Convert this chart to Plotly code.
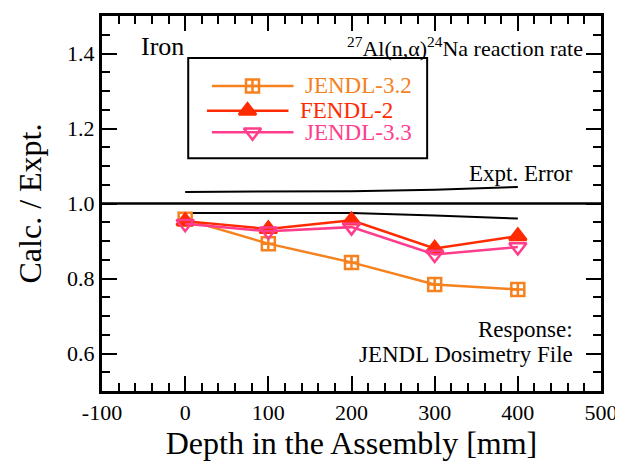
import plotly.graph_objects as go

# ---- data ----
depth = [0, 100, 200, 300, 400]
jendl32 = [0.958, 0.893, 0.843, 0.784, 0.771]
fendl2 = [0.953, 0.932, 0.955, 0.880, 0.913]
jendl33 = [0.946, 0.926, 0.937, 0.864, 0.884]
err_upper = [1.031, 1.031, 1.033, 1.037, 1.044]
err_lower = [0.975, 0.975, 0.975, 0.968, 0.960]
x_tickvals = [-100, 0, 100, 200, 300, 400, 500]
x_ticktext = ["-100", "0", "100", "200", "300", "400", "500"]

names = ["JENDL-3.2", "FENDL-2", "JENDL-3.3"]
colors = ["#F5821F", "#FF2A00", "#FF3D8C"]
symbols = ["square-cross-open", "triangle-up", "triangle-down-open"]
sizes = [13, 15, 15]
series = [jendl32, fendl2, jendl33]

FONT = "Liberation Serif, Times New Roman, serif"

fig = go.Figure()

# expt error band lines
fig.add_trace(go.Scatter(x=depth, y=err_upper, mode="lines",
                         line=dict(color="black", width=2), showlegend=False))
fig.add_trace(go.Scatter(x=depth, y=err_lower, mode="lines",
                         line=dict(color="black", width=2), showlegend=False))

for nm, ys, c, s, sz in zip(names, series, colors, symbols, sizes):
    fig.add_trace(go.Scatter(
        x=depth, y=ys, mode="lines+markers", name=nm,
        line=dict(color=c, width=2.5),
        marker=dict(symbol=s, size=sz, color=c, line=dict(color=c, width=2.5)),
        showlegend=False))

# ---- manual legend (overlay axes in [0,1]) ----
leg_rows = [0.8134, 0.7473, 0.6899]
leg_line_x = [(0.2203, 0.3837), (0.2103, 0.3737), (0.2203, 0.3837)]
leg_mark_x = [0.3016, 0.2916, 0.3016]
leg_text_x = [0.4026, 0.3937, 0.4026]

shapes = [
    dict(type="rect", xref="paper", yref="paper", x0=0.1728, x1=0.6516,
         y0=0.621, y1=0.888, line=dict(color="black", width=2),
         fillcolor="white", layer="below"),
]
annotations = []
for i in range(3):
    shapes.append(dict(type="line", xref="paper", yref="paper",
                       x0=leg_line_x[i][0], x1=leg_line_x[i][1],
                       y0=leg_rows[i], y1=leg_rows[i],
                       line=dict(color=colors[i], width=2.5), layer="below"))
    annotations.append(dict(x=leg_text_x[i], y=leg_rows[i], xref="paper", yref="paper",
                            text=names[i], showarrow=False, xanchor="left",
                            yanchor="middle",
                            font=dict(family=FONT, size=23, color=colors[i])))
    fig.add_trace(go.Scatter(
        x=[leg_mark_x[i]], y=[leg_rows[i]], xaxis="x2", yaxis="y2",
        mode="markers", showlegend=False,
        marker=dict(symbol=symbols[i], size=sizes[i], color=colors[i],
                    line=dict(color=colors[i], width=2.5))))

# 1.0 reference line
shapes.append(dict(type="line", xref="paper", yref="y", x0=0, x1=1, y0=1.0, y1=1.0,
                   line=dict(color="black", width=2.5)))

annotations += [
    dict(x=0.0747, y=0.918, xref="paper", yref="paper", text="Iron",
         showarrow=False, xanchor="left", yanchor="middle",
         font=dict(family=FONT, size=26, color="black")),
    dict(x=0.968, y=0.918, xref="paper", yref="paper",
         text="<sup>27</sup>Al(n,α)<sup>24</sup>Na reaction rate",
         showarrow=False, xanchor="right", yanchor="middle",
         font=dict(family=FONT, size=22, color="black")),
    dict(x=0.948, y=0.58, xref="paper", yref="paper", text="Expt. Error",
         showarrow=False, xanchor="right", yanchor="middle",
         font=dict(family=FONT, size=23, color="black")),
    dict(x=0.948, y=0.164, xref="paper", yref="paper", text="Response:",
         showarrow=False, xanchor="right", yanchor="middle",
         font=dict(family=FONT, size=23, color="black")),
    dict(x=0.948, y=0.098, xref="paper", yref="paper", text="JENDL Dosimetry File",
         showarrow=False, xanchor="right", yanchor="middle",
         font=dict(family=FONT, size=23, color="black")),
]

axis_common = dict(showgrid=False, zeroline=False, showline=True, linecolor="black",
                   linewidth=3, mirror="allticks", ticks="inside", ticklen=15,
                   tickwidth=2, tickcolor="black",
                   tickfont=dict(family=FONT, size=22, color="black"))

# page body has an 8px margin: size the figure so it ends at the window edge
fig.update_layout(
    width=615, height=457,
    margin=dict(l=94, r=22, t=5, b=74),
    plot_bgcolor="white", paper_bgcolor="white",
    showlegend=False,
    font=dict(family=FONT, color="black"),
    xaxis=dict(range=[-100, 500], tickvals=x_tickvals, ticktext=x_ticktext,
               minor=dict(dtick=20, tick0=0, ticks="inside", ticklen=8, tickwidth=2,
                          tickcolor="black"),
               title=dict(text="Depth in the Assembly [mm]",
                          font=dict(family=FONT, size=32, color="black"), standoff=4),
               **axis_common),
    yaxis=dict(range=[0.5, 1.5], dtick=0.2, tick0=0, tickformat=".1f",
               minor=dict(dtick=0.05, ticks="inside", ticklen=8, tickwidth=2,
                          tickcolor="black"),
               title=dict(text="Calc. / Expt.",
                          font=dict(family=FONT, size=32, color="black"), standoff=16),
               **axis_common),
    xaxis2=dict(overlaying="x", range=[0, 1], visible=False),
    yaxis2=dict(overlaying="y", range=[0, 1], visible=False),
    shapes=shapes,
    annotations=annotations,
)

fig.write_html("out.html")
